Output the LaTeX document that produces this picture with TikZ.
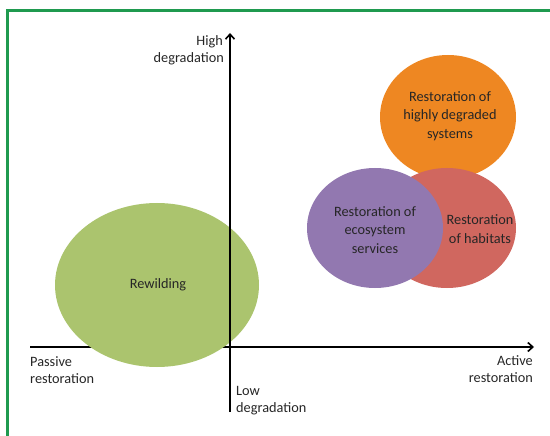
\documentclass[tikz,border=0pt]{standalone}
\usepackage{fontspec}
\setmainfont{Carlito}
\usetikzlibrary{arrows.meta}
\definecolor{frame}{HTML}{1F9A4F}
\definecolor{cgreen}{HTML}{ABC46E}
\definecolor{corange}{HTML}{EE8722}
\definecolor{cred}{HTML}{D0675F}
\definecolor{cpurple}{HTML}{9278B0}
\definecolor{txt}{HTML}{262626}
\tikzset{
  lbl/.style={text=txt, font=\fontsize{14.3}{18.5}\selectfont, align=center, inner sep=0pt},
  axislbl/.style={text=txt, font=\fontsize{14.3}{17}\selectfont, inner sep=0pt},
  axis/.style={line width=1.6pt, -{Straight Barb[length=5pt,width=9pt,line width=1.6pt]}}
}
\begin{document}
\begin{tikzpicture}[x=1pt,y=-1pt]
\useasboundingbox (0,0) rectangle (550,436);
% frame
\draw[frame, line width=3pt] (7,440) -- (7,10.5) -- (555,10.5);
% axes coordinates
\coordinate (xl) at (30,347);
\coordinate (xr) at (534,347);
\coordinate (yb) at (230,412);
\coordinate (yt) at (230,33);
\draw[axis] (xl) -- (xr);
% ellipses
\fill[cgreen] (157,285) ellipse [x radius=102, y radius=82];
\fill[corange] (448,117) ellipse [x radius=68, y radius=62];
\fill[cred] (447,228) ellipse [x radius=69, y radius=60];
\fill[cpurple] (375,228) ellipse [x radius=68, y radius=60];
\draw[axis] (yb) -- (yt);
% labels
\node[lbl] (rew) at (158,285) {Rewilding};
\node[lbl] (hds) at (450,116) {Restoration of\\highly degraded\\systems};
\node[lbl] (hab) at (480,229) {Restoration\\of habitats};
\node[lbl] (ess) at (375,230) {Restoration of\\ecosystem\\services};
\node[axislbl, anchor=base east] (high1) at (223,46) {High};
\node[axislbl, anchor=base east] (high2) at (224,63) {degradation};
\node[axislbl, anchor=base west] (pas1) at (30,366) {Passive};
\node[axislbl, anchor=base west] (pas2) at (30,383) {restoration};
\node[axislbl, anchor=base west] (low1) at (236,395) {Low};
\node[axislbl, anchor=base west] (low2) at (236,412) {degradation};
\node[axislbl, anchor=base east] (act1) at (533,365) {Active};
\node[axislbl, anchor=base east] (act2) at (533,382) {restoration};
\end{tikzpicture}
\end{document}
